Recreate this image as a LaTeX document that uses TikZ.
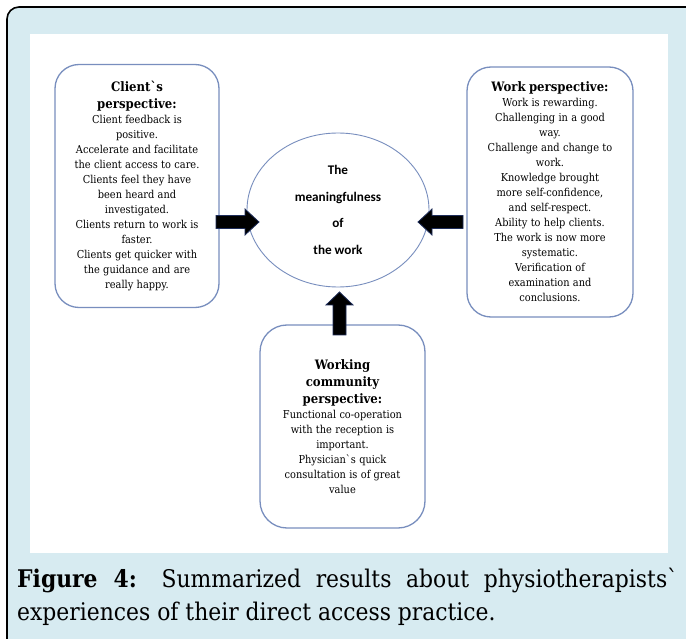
\documentclass[tikz,border=0pt]{standalone}
\usepackage{fontspec}
\newfontfamily\serifbox[FakeStretch=0.9,Ligatures=TeXOff]{DejaVu Serif}
\newfontfamily\sansbox{Carlito}
\usetikzlibrary{shapes.geometric}
\definecolor{bgblue}{RGB}{215,235,241}
\definecolor{boxline}{RGB}{120,142,190}
\definecolor{arrowline}{RGB}{30,45,90}
\newcommand\hdrfont{\serifbox\bfseries\fontsize{13}{16.7}\selectfont}
\newcommand\bodyfont{\serifbox\fontsize{10.9}{15}\selectfont}
\begin{document}
\begin{tikzpicture}[x=1pt,y=-1pt,
  persp/.style={draw=boxline, line width=1.3pt, rounded corners=24pt, fill=white,
    align=center, inner sep=0pt, text width=160pt},
  blockarr/.style={fill=black, draw=arrowline, line width=0.8pt, line join=miter},
  captext/.style={anchor=base west, inner sep=0pt, font=\serifbox\fontsize{24.3}{33}\selectfont}]
\clip (0,0) rectangle (686,639);
% frame
\fill[white] (0,0) rectangle (686,639);
\draw[fill=bgblue, draw=black, line width=1.6pt, rounded corners=12pt] (7,7) rectangle (720,680);
\fill[white] (30,34) rectangle (668,553);
% centre
\node[ellipse, draw=boxline, line width=0.9pt, minimum width=182pt, minimum height=154pt,
  inner sep=0pt, align=center, font=\sansbox\bfseries\fontsize{13.2}{26.7}\selectfont]
  (cen) at (338,210) {The\\meaningfulness\\of\\the work};
% client box
\node[persp, minimum width=164pt, minimum height=243pt] (client) at (137,186)
 {{\hdrfont Client`s\\perspective:\par}%
  {\bodyfont Client feedback is\\positive.\\Accelerate and facilitate\\the client access to care.\\Clients feel they have\\been heard and\\investigated.\\Clients return to work is\\faster.\\Clients get quicker with\\the guidance and are\\really happy.\par}};
% work box
\node[persp, minimum width=166pt, minimum height=250pt] (work) at (550,192)
 {{\hdrfont Work perspective:\par}%
  {\bodyfont Work is rewarding.\\Challenging in a good\\way.\\Challenge and change to\\work.\\Knowledge brought\\more self-confidence,\\and self-respect.\\Ability to help clients.\\The work is now more\\systematic.\\Verification of\\examination and\\conclusions.\par}};
% community box
\node[persp, rounded corners=27pt, minimum width=165pt, minimum height=203pt] (comm) at (342.5,426.5)
 {{\hdrfont Working\\community\\perspective:\par}%
  {\bodyfont Functional co-operation\\with the reception is\\important.\\Physician`s quick\\consultation is of great\\value\par}};
% block arrows
\coordinate (lt) at (259,222);
\coordinate (rt) at (418,222);
\coordinate (ut) at (339.5,292);
\draw[blockarr] (lt) -- ++(-14,-13) -- ++(0,6.5) -- ++(-29,0) -- ++(0,13) -- ++(29,0) -- ++(0,6.5) -- cycle;
\draw[blockarr] (rt) -- ++(14,-13) -- ++(0,6.5) -- ++(31,0) -- ++(0,13) -- ++(-31,0) -- ++(0,6.5) -- cycle;
\draw[blockarr] (ut) -- ++(13.5,13) -- ++(-7,0) -- ++(0,30) -- ++(-13,0) -- ++(0,-30) -- ++(-7,0) -- cycle;
% caption
\node[captext] (cap1) at (17,587) {\makebox[661pt][s]{{\bfseries Figure 4:} Summarized results about physiotherapists`}};
\node[captext] (cap2) at (17,620) {experiences of their direct access practice.};
\end{tikzpicture}
\end{document}
